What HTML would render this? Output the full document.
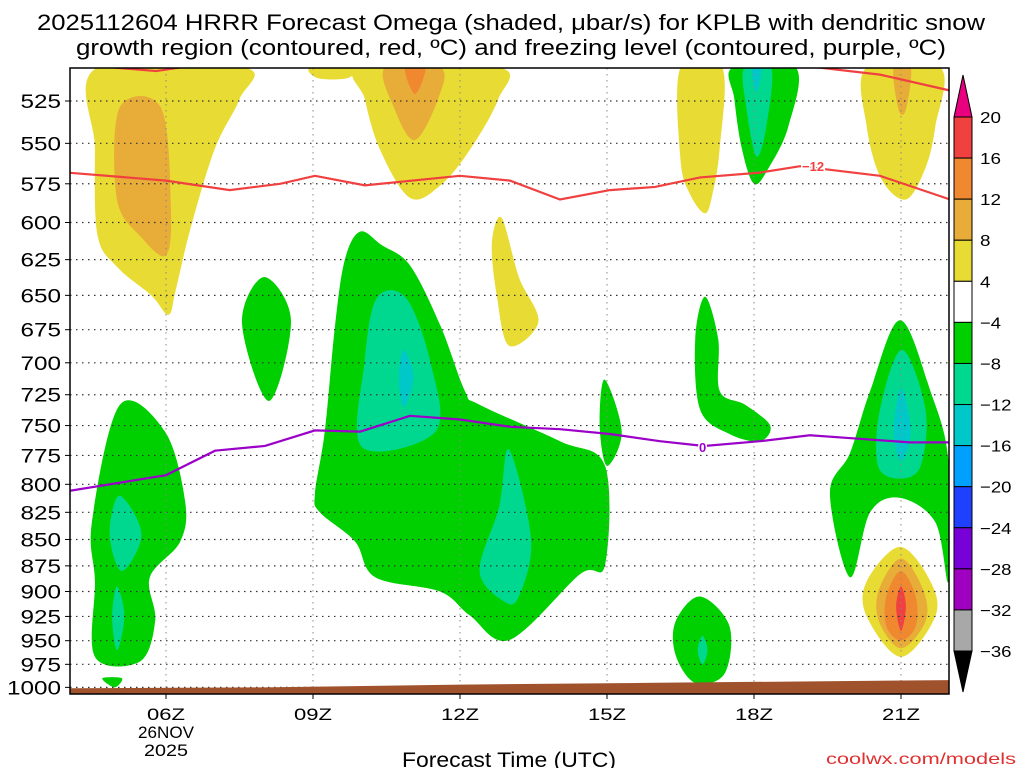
<!DOCTYPE html>
<html><head><meta charset="utf-8"><style>
html,body{margin:0;padding:0;background:#fff;}
svg{display:block;font-family:"Liberation Sans",sans-serif;}
</style></head><body>
<svg id="c" width="1024" height="768" viewBox="0 0 1024 768"></svg>
<script>
// ---- data ----
const pressureTicks=[525,550,575,600,625,650,675,700,725,750,775,800,825,850,875,900,925,950,975,1000];
const hourTicks=[6,9,12,15,18,21];
const hourLabels=["06Z","09Z","12Z","15Z","18Z","21Z"];
const cbLevels=[20,16,12,8,4,-4,-8,-12,-16,-20,-24,-28,-32,-36];
const cbColors=["#f04040","#f08830","#e8ac38","#e8dc34","#ffffff","#00d000","#00d890","#00c8c8","#00a0ff","#2040ff","#7800d8","#a000c0","#a8a8a8"];
const redHours=[4.0,6.0,7.3,8.33,9.04,10.06,12.0,13.02,14.04,15.06,15.98,16.9,18.12,18.94,20.57,22.0];
const redPres=[568,573,579,575,570,576,570,573,585,579,577,571,568,564,570,585];
const redTopHours=[4.9,5.8,6.3];
const redTopPres=[506,508,506];
const redTop2Hours=[19.3,20.57,22.0];
const redTop2Pres=[506,510,519];
const purpleHours=[4.0,6.0,7.0,8.02,9.04,9.96,10.98,12.0,13.02,14.04,15.06,16.08,16.98,18.12,19.14,20.16,21.18,22.0];
const purplePres=[806,792,771,767,754,755,742,745,751,753,757,763,767,763,758,761,764,764];
const sfcHours=[4.0,8,12,16,22.0];
const sfcPres=[1001,1000,997,995,992];
// shaded omega regions: [colorIndex, [[hour,hPa],...]]
const blobs=[
 [3,[[4.6,506],[7.6,506],[7.5,524],[7.0,553],[6.5,604],[6.2,646],[6.05,664],[5.7,650],[5.0,630],[4.6,608],[4.55,553]]],
 [2,[[5.05,529],[5.9,529],[6.1,590],[6.0,622],[5.5,610],[5.0,585]]],
 [3,[[10.0,506],[12.8,506],[12.78,524],[12.2,554],[11.6,576],[10.98,584],[10.37,554],[10.06,524]]],
 [2,[[10.47,506],[11.6,506],[11.55,524],[11.08,548],[10.67,530]]],
 [1,[[10.88,506],[11.29,506],[11.08,521]]],
 [3,[[8.95,506],[9.85,506],[9.7,512],[9.1,512]]],
 [3,[[12.65,614],[12.85,597],[13.2,637],[13.6,669],[13.0,687],[12.75,650]]],
 [3,[[16.5,506],[17.35,506],[17.3,553],[17.15,582],[17.0,594],[16.7,582],[16.5,560]]],
 [5,[[17.57,506],[18.85,506],[18.7,540],[18.3,565],[18.0,575],[17.75,553],[17.6,524]]],
 [6,[[17.8,506],[18.35,506],[18.25,540],[18.05,558],[17.85,530]]],
 [7,[[17.95,506],[18.15,506],[18.05,520]]],
 [3,[[20.3,506],[21.8,506],[21.7,540],[21.5,565],[21.1,585],[20.6,572],[20.3,540]]],
 [2,[[20.85,506],[21.2,506],[21.1,530],[20.95,530]]],
 [5,[[7.55,670],[8.0,637],[8.55,668],[8.1,730]]],
 [5,[[9.96,606],[10.4,615],[10.98,629],[11.6,672],[12.1,722],[12.4,733],[14.04,763],[14.96,784],[14.96,874],[14.45,883],[13.02,949],[12.2,924],[11.59,900],[10.27,886],[9.86,852],[9.14,825],[9.04,808],[9.24,755],[9.45,672],[9.65,625]]],
 [6,[[10.3,652],[10.9,652],[11.4,700],[11.5,755],[10.0,768],[10.05,700]]],
 [7,[[10.85,690],[11.05,711],[10.85,735],[10.75,711]]],
 [6,[[13.0,770],[13.45,850],[13.2,905],[12.9,910],[12.4,880],[12.8,820]]],
 [5,[[14.95,713],[15.3,755],[15.0,784],[14.85,750]]],
 [5,[[17.0,651],[17.27,682],[17.3,722],[17.82,733],[18.33,750],[18.12,763],[17.5,757],[16.9,737],[16.8,682]]],
 [5,[[16.4,930],[16.9,905],[17.5,935],[17.4,985],[16.8,995],[16.4,965]]],
 [6,[[16.95,945],[17.05,960],[16.95,975],[16.85,960]]],
 [5,[[4.49,833],[5.06,733],[5.98,755],[6.39,815],[6.29,852],[5.67,886],[5.78,929],[5.47,972],[4.55,967],[4.55,890]]],
 [6,[[5.05,810],[5.5,845],[5.1,880],[4.85,845]]],
 [6,[[5.0,895],[5.15,925],[5.0,960],[4.9,925]]],
 [5,[[4.7,990],[5.1,990],[4.95,1000]]],
 [5,[[20.98,668],[21.6,722],[21.97,780],[21.97,890],[21.7,834],[20.98,812],[20.37,825],[19.96,886],[19.55,808],[19.96,773],[20.37,722]]],
 [6,[[21.02,690],[21.5,737],[21.4,784],[20.98,795],[20.53,784],[20.57,737]]],
 [7,[[21.0,720],[21.2,755],[21.0,780],[20.85,755]]],
 [3,[[20.98,857],[21.6,890],[21.7,925],[21.0,967],[20.3,925],[20.3,890]]],
 [2,[[21.0,868],[21.45,898],[21.5,930],[21.0,958],[20.55,930],[20.55,898]]],
 [1,[[21.0,880],[21.3,905],[21.3,935],[21.0,950],[20.7,935],[20.7,905]]],
 [0,[[21.0,895],[21.1,915],[21.0,940],[20.9,915]]]
];
// ---- scales ----
const X0=70,X1=949,Y0=68,Y1=694;
const xs=h=>166+(h-6)*49;
const ys=p=>101+910*Math.log(p/525);
const NS="http://www.w3.org/2000/svg";
const svg=document.getElementById('c');
function mk(t,a,parent){const e=document.createElementNS(NS,t);for(const k in a)e.setAttribute(k,a[k]);(parent||svg).appendChild(e);return e;}
function smooth(pts){const n=pts.length;let d=`M${pts[0][0]},${pts[0][1]}`;
 for(let i=0;i<n;i++){const p0=pts[(i-1+n)%n],p1=pts[i],p2=pts[(i+1)%n],p3=pts[(i+2)%n];
  const c1=[p1[0]+(p2[0]-p0[0])/6,p1[1]+(p2[1]-p0[1])/6],c2=[p2[0]-(p3[0]-p1[0])/6,p2[1]-(p3[1]-p1[1])/6];
  d+=`C${c1[0]},${c1[1]} ${c2[0]},${c2[1]} ${p2[0]},${p2[1]}`;}return d+'Z';}
function line(hs,ps){return hs.map((h,i)=>(i?'L':'M')+xs(h)+','+ys(ps[i])).join('');}

mk('defs',{}).innerHTML='<clipPath id="pc"><rect x="70" y="68" width="879" height="626"/></clipPath>';
const g=mk('g',{'clip-path':'url(#pc)'});


blobs.forEach(b=>{const p=mk('path',{d:smooth(b[1].map(q=>[xs(q[0]),ys(q[1])])),fill:cbColors[b[0]]},g);
 
 });
// grid
pressureTicks.forEach(p=>{const l=mk('line',{x1:X0,x2:X1,y1:ys(p),y2:ys(p),stroke:'#333','stroke-width':1.2,'stroke-dasharray':'1.5 4.5'},g);
 
 });
hourTicks.forEach(h=>{const l=mk('line',{x1:xs(h),x2:xs(h),y1:Y0,y2:Y1,stroke:'#888','stroke-width':1,'stroke-dasharray':'1.5 4.5'},g);
 
 });
// lines
[[redHours,redPres],[redTopHours,redTopPres],[redTop2Hours,redTop2Pres]].forEach(s=>{const l=mk('path',{d:line(s[0],s[1]),fill:'none',stroke:'#f04040','stroke-width':2.2},g);
 
 });
const pl=mk('path',{d:line(purpleHours,purplePres),fill:'none',stroke:'#9a00c8','stroke-width':2.2},g);


// surface
let sd=line(sfcHours,sfcPres)+`L${xs(sfcHours[sfcHours.length-1])},${Y1}L${xs(sfcHours[0])},${Y1}Z`;
const sf=mk('path',{d:sd,fill:'#a0522d'},g);


// contour labels
let t=mk('text',{x:xs(18.94)+2,y:ys(564)+5,fill:'#f04040','font-size':13,'font-weight':'bold',stroke:'#fff','stroke-width':3,'paint-order':'stroke'});t.textContent='−12';


t=mk('text',{x:xs(16.98)-5,y:ys(767)+6,fill:'#9a00c8','font-size':13,'font-weight':'bold',stroke:'#fff','stroke-width':3,'paint-order':'stroke'});t.textContent='0';


// frame
const fr=mk('rect',{x:X0,y:Y0,width:X1-X0,height:Y1-Y0,fill:'none',stroke:'#000','stroke-width':1.5});


// y ticks
pressureTicks.forEach(p=>{const y=ys(p);
 mk('line',{x1:X0-5,x2:X0,y1:y,y2:y,stroke:'#000'});
 const tx=mk('text',{x:61,y:y+7,'text-anchor':'end','font-size':19,fill:'#000',textLength:String(p).length*13.5,lengthAdjust:'spacingAndGlyphs'});tx.textContent=p;
 
 });
hourTicks.forEach((h,i)=>{const x=xs(h);
 mk('line',{x1:x,x2:x,y1:Y1,y2:Y1+5,stroke:'#000'});
 const tx=mk('text',{x:x,y:720,'text-anchor':'middle','font-size':17,fill:'#000',textLength:38,lengthAdjust:'spacingAndGlyphs'});tx.textContent=hourLabels[i];
 
 });
t=mk('text',{x:166,y:738,'text-anchor':'middle','font-size':17,textLength:56,lengthAdjust:'spacingAndGlyphs'});t.textContent='26NOV';


t=mk('text',{x:166,y:756,'text-anchor':'middle','font-size':17,textLength:44,lengthAdjust:'spacingAndGlyphs'});t.textContent='2025';


t=mk('text',{x:509,y:767,'text-anchor':'middle','font-size':21,textLength:214,lengthAdjust:'spacingAndGlyphs'});t.textContent='Forecast Time (UTC)';


t=mk('text',{x:1016,y:764,'text-anchor':'end','font-size':16,fill:'#e03030',textLength:190,lengthAdjust:'spacingAndGlyphs'});t.textContent='coolwx.com/models';


t=mk('text',{x:511,y:30,'text-anchor':'middle','font-size':22,textLength:948,lengthAdjust:'spacingAndGlyphs'});t.textContent='2025112604 HRRR Forecast Omega (shaded, μbar/s) for KPLB with dendritic snow';


t=mk('text',{x:511,y:55,'text-anchor':'middle','font-size':22,textLength:870,lengthAdjust:'spacingAndGlyphs'});t.textContent='growth region (contoured, red, ºC) and freezing level (contoured, purple, ºC)';


// colorbar
const cbx=954,cbw=18,cbTop=117,band=(651-117)/(cbLevels.length-1);
const cb=mk('g',{});


mk('polygon',{points:`${cbx},${cbTop} ${cbx+cbw},${cbTop} ${cbx+cbw/2},75`,fill:'#e8007f',stroke:'#000'},cb);
mk('polygon',{points:`${cbx},651 ${cbx+cbw},651 ${cbx+cbw/2},692`,fill:'#000',stroke:'#000'},cb);
cbColors.forEach((c,i)=>{mk('rect',{x:cbx,y:cbTop+i*band,width:cbw,height:band,fill:c,stroke:'#000','stroke-width':1},cb);});
cbLevels.forEach((v,i)=>{const tx=mk('text',{x:980,y:cbTop+i*band+6,'font-size':16,textLength:String(v).length*10.5,lengthAdjust:'spacingAndGlyphs'},cb);tx.textContent=v<0?'−'+(-v):v;
 
 });
</script>
</body></html>
